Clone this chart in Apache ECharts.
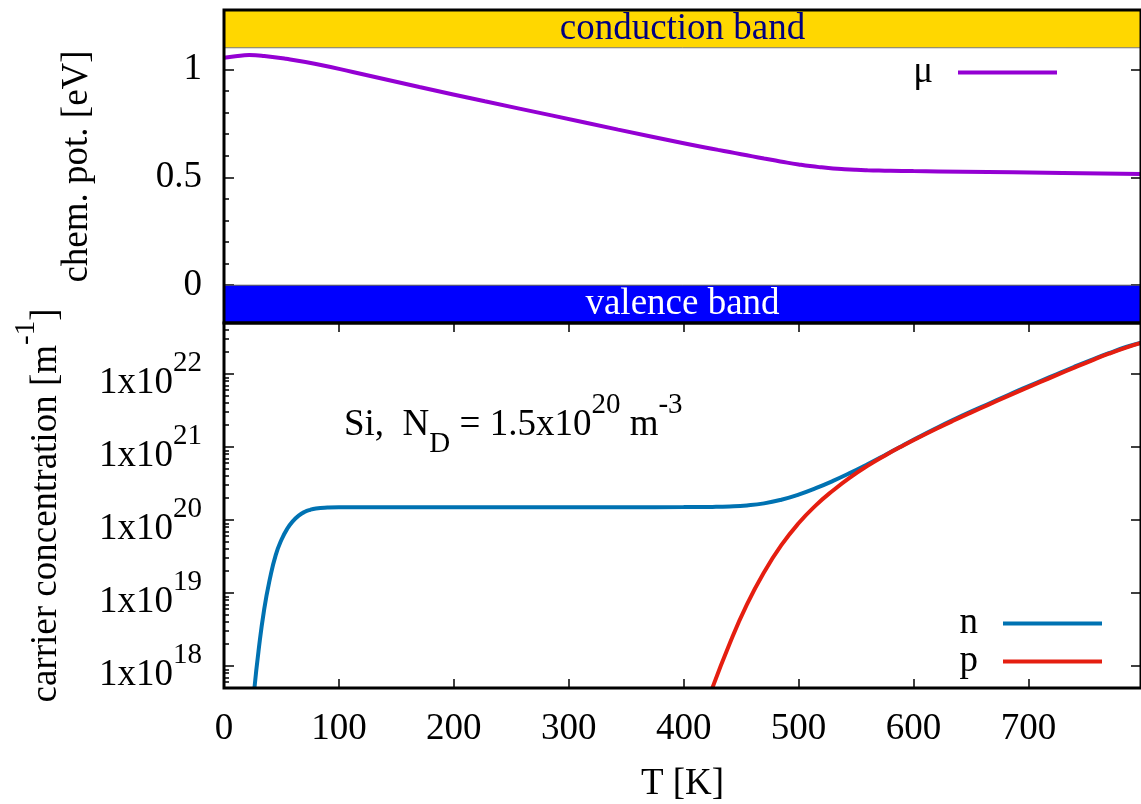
<!DOCTYPE html>
<html lang="en" style="height: 100%">
<head>
  <meta charset="utf-8">
</head>
<body style="height: 100%; margin: 0">
  <div id="container" style="width: 1141px; height: 804px"></div>

  <script type="text/javascript" src="https://fastly.jsdelivr.net/npm/echarts@6/dist/echarts.min.js"></script>
  <script type="text/javascript">
    // chemical potential [eV] vs T [K]
    var muTemps = [0, 10, 22, 35, 54, 80, 112, 170, 227, 285, 343, 400, 430, 440, 450, 460, 470, 480, 490,
      500, 510, 520, 530, 540, 550, 560, 570, 580, 600, 643, 730, 798];
    var mu = [1.054, 1.061, 1.066, 1.062, 1.049, 1.025, 0.988, 0.918, 0.852, 0.787, 0.721, 0.658, 0.627,
      0.617, 0.607, 0.597, 0.587, 0.5775, 0.568, 0.5595, 0.552, 0.546, 0.541, 0.5375, 0.5348, 0.5328,
      0.5313, 0.5302, 0.5286, 0.526, 0.520, 0.515];

    // electrons: log10 of concentration [m^-1] vs T [K]
    var nTemps = [26.5, 30, 35, 40, 45, 50, 55, 60, 65, 70, 75, 80, 90, 100, 150, 200, 250, 300, 350, 400,
      425, 440, 455, 470, 485, 500, 515, 530, 545, 560, 575, 590, 605, 620, 635, 650, 665, 680, 695, 710,
      725, 740, 755, 770, 785, 798];
    var nExp = [17.70, 18.20, 18.78, 19.20, 19.52, 19.73, 19.88, 19.985, 20.06, 20.11, 20.14, 20.157, 20.17,
      20.175, 20.176, 20.176, 20.176, 20.176, 20.176, 20.177, 20.18, 20.186, 20.200, 20.228, 20.278,
      20.348, 20.436, 20.536, 20.646, 20.764, 20.888, 21.015, 21.14, 21.26, 21.375, 21.485, 21.59, 21.695,
      21.80, 21.90, 22.00, 22.10, 22.195, 22.285, 22.37, 22.43];

    // holes: log10 of concentration [m^-1] vs T [K]
    var pTemps = [425, 440, 455, 470, 485, 500, 515, 530, 545, 560, 575, 590, 605, 620, 635, 650, 665, 680,
      695, 710, 725, 740, 755, 770, 785, 798];
    var pExp = [17.70, 18.306, 18.84, 19.285, 19.655, 19.955, 20.20, 20.405, 20.585, 20.742, 20.882, 21.012,
      21.134, 21.251, 21.363, 21.471, 21.578, 21.683, 21.787, 21.888, 21.988, 22.088, 22.185, 22.278, 22.362, 22.425];

    var xTicks = [0, 100, 200, 300, 400, 500, 600, 700];
    var muTicks = [0, 0.5, 1];
    var muMinor = [0.1, 0.2, 0.3, 0.4, 0.6, 0.7, 0.8, 0.9];
    var concTicks = [1e18, 1e19, 1e20, 1e21, 1e22];
    var concMinor = [];
    for (var d = 17; d <= 22; d++) {
      for (var m = 2; m <= 9; m++) {
        var v = m * Math.pow(10, d);
        if (v > 5e17 && v < 5e22) concMinor.push(v);
      }
    }

    function pairs(ts, vals, toValue) {
      return ts.map(function (t, i) { return [t, toValue(vals[i])]; });
    }
    function same(v) { return v; }
    function pow10(e) { return Math.pow(10, e); }

    var FONT = 'Liberation Serif';
    var FS = 37;
    // rich pieces for super/subscripts (gnuplot enhanced text look)
    var rich = {
      b: { fontSize: FS, lineHeight: 68, verticalAlign: 'middle', fontFamily: FONT, color: '#000' },
      sup: { fontSize: 29, lineHeight: 29, verticalAlign: 'top', fontFamily: FONT, color: '#000' },
      sub: { fontSize: 29, lineHeight: 40, verticalAlign: 'bottom', fontFamily: FONT, color: '#000' }
    };
    var tickLine = { color: '#000', width: 1.5 };

    var dom = document.getElementById('container');
    var myChart = echarts.init(dom, null, { renderer: 'canvas' });

    var option = {
      animation: false,
      textStyle: { fontFamily: FONT },
      grid: [
        { left: 224, right: -6, top: 10, height: 313, show: true, borderColor: '#000', borderWidth: 3, z: 5 },
        { left: 224, right: -6, top: 323, height: 365, show: true, borderColor: '#000', borderWidth: 3, z: 5 }
      ],
      xAxis: [
        { gridIndex: 0, type: 'value', min: 0, max: 798, show: false },
        {
          gridIndex: 1, type: 'value', min: 0, max: 798, position: 'bottom',
          axisLine: { show: false }, splitLine: { show: false },
          axisTick: { inside: true, length: 9, lineStyle: tickLine, customValues: xTicks },
          axisLabel: { customValues: xTicks, color: '#000', fontSize: FS, fontFamily: FONT, margin: 23 },
          name: 'T [K]', nameLocation: 'middle', nameGap: 78,
          nameTextStyle: { color: '#000', fontSize: FS, fontFamily: FONT }
        },
        {
          gridIndex: 1, type: 'value', min: 0, max: 798, position: 'top',
          axisLine: { show: false }, splitLine: { show: false }, axisLabel: { show: false },
          axisTick: { inside: true, length: 9, lineStyle: tickLine, customValues: xTicks }
        }
      ],
      yAxis: [
        {
          gridIndex: 0, type: 'value', min: -0.175, max: 1.275, position: 'left',
          axisLine: { show: false }, splitLine: { show: false },
          axisTick: { inside: true, length: 10, lineStyle: tickLine, customValues: muTicks },
          axisLabel: { customValues: muTicks, color: '#000', fontSize: FS, fontFamily: FONT, margin: 22 },
          name: 'chem. pot. [eV]', nameLocation: 'middle', nameGap: 128,
          nameTextStyle: { color: '#000', fontSize: FS, fontFamily: FONT }
        },
        {
          gridIndex: 0, type: 'value', min: -0.175, max: 1.275, position: 'left',
          axisLine: { show: false }, splitLine: { show: false }, axisLabel: { show: false },
          axisTick: { inside: true, length: 5, lineStyle: tickLine, customValues: muMinor }
        },
        {
          gridIndex: 0, type: 'value', min: -0.175, max: 1.275, position: 'right',
          axisLine: { show: false }, splitLine: { show: false }, axisLabel: { show: false },
          axisTick: { inside: true, length: 10, lineStyle: tickLine, customValues: muTicks }
        },
        {
          gridIndex: 1, type: 'log', min: 5e17, max: 5e22, position: 'left',
          axisLine: { show: false }, splitLine: { show: false },
          axisTick: { inside: true, length: 10, lineStyle: tickLine, customValues: concTicks },
          axisLabel: {
            customValues: concTicks, color: '#000', fontSize: FS, fontFamily: FONT, margin: 22,
            padding: [18, 0, 0, 0],
            formatter: function (v) { return '{b|1x10}{sup|' + Math.round(Math.log10(v)) + '}'; },
            rich: rich
          },
          name: '{b|carrier concentration [m}{sup|-1}{b|]}', nameLocation: 'middle', nameGap: 144,
          nameTextStyle: { color: '#000', fontSize: FS, fontFamily: FONT, rich: rich }
        },
        {
          gridIndex: 1, type: 'log', min: 5e17, max: 5e22, position: 'left',
          axisLine: { show: false }, splitLine: { show: false }, axisLabel: { show: false },
          axisTick: { inside: true, length: 5, lineStyle: tickLine, customValues: concMinor }
        },
        {
          gridIndex: 1, type: 'log', min: 5e17, max: 5e22, position: 'right',
          axisLine: { show: false }, splitLine: { show: false }, axisLabel: { show: false },
          axisTick: { inside: true, length: 10, lineStyle: tickLine, customValues: concTicks }
        }
      ],
      legend: [
        {
          data: ['μ'], right: 79, top: 49, align: 'right', icon: 'rect',
          itemWidth: 99, itemHeight: 4,
          textStyle: { color: '#000', fontSize: FS, fontFamily: FONT, lineHeight: 36, padding: [0, 20, 0, 0] }
        },
        {
          data: ['n', 'p'], orient: 'vertical', right: 34, top: 600, align: 'right', icon: 'rect',
          itemWidth: 99, itemHeight: 4, itemGap: 1,
          textStyle: { color: '#000', fontSize: FS, fontFamily: FONT, lineHeight: 36, padding: [0, 20, 0, 0] }
        }
      ],
      graphic: [
        {
          type: 'text', left: 344, top: 391, z: 10,
          style: {
            text: '{b|Si,  N}{sub|D}{b| = 1.5x10}{sup|20}{b| m}{sup|-3}',
            fill: '#000', fontSize: FS, fontFamily: FONT,
            rich: rich
          }
        }
      ],
      series: [
        {
          name: 'μ', type: 'line', xAxisIndex: 0, yAxisIndex: 0,
          color: '#9400D3', showSymbol: false, smooth: true, lineStyle: { width: 4 },
          data: pairs(muTemps, mu, same),
          markArea: {
            silent: true,
            label: { position: 'inside', fontSize: FS, fontFamily: FONT, formatter: '{b}' },
            data: [
              [
                { name: 'conduction band', yAxis: 1.1,
                  itemStyle: { color: '#FFD700', borderColor: '#777', borderWidth: 1 },
                  label: { color: '#000080' } },
                { yAxis: 1.275 }
              ],
              [
                { name: 'valence band', yAxis: -0.175,
                  itemStyle: { color: '#0000FF', borderColor: '#555', borderWidth: 1 },
                  label: { color: '#fff' } },
                { yAxis: 0 }
              ]
            ]
          }
        },
        {
          name: 'n', type: 'line', xAxisIndex: 1, yAxisIndex: 3,
          color: '#0072B2', showSymbol: false, smooth: true, lineStyle: { width: 4 },
          data: pairs(nTemps, nExp, pow10)
        },
        {
          name: 'p', type: 'line', xAxisIndex: 1, yAxisIndex: 3,
          color: '#E51E10', showSymbol: false, smooth: true, lineStyle: { width: 4 },
          data: pairs(pTemps, pExp, pow10)
        }
      ]
    };

    myChart.setOption(option);
    window.addEventListener('resize', myChart.resize);
  </script>
</body>
</html>
